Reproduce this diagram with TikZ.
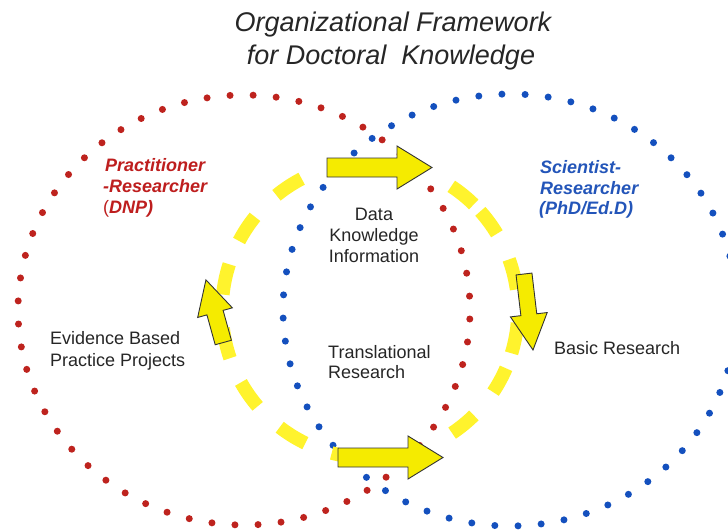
\documentclass[tikz,border=0pt]{standalone}
\usepackage{fontspec}
\setmainfont{Liberation Sans}
\definecolor{dotred}{RGB}{190,35,30}
\definecolor{dotblue}{RGB}{20,80,190}
\definecolor{txtred}{RGB}{190,30,30}
\definecolor{txtblue}{RGB}{35,85,185}
\definecolor{dashyel}{RGB}{255,243,45}
\definecolor{arryel}{RGB}{245,235,0}
\newcommand\blockarrowY[7]{%
  \begin{scope}[shift={(#1,#2)}, rotate=#3]
    \filldraw[yarrowsty] (0,-#6) -- (#4,-#6) -- (#4,-#7) -- ({#4+#5},0) -- (#4,#7) -- (#4,#6) -- (0,#6) -- cycle;
  \end{scope}}
\begin{document}
\begin{tikzpicture}[x=1pt,y=-1pt,
  reddots/.style={draw=dotred, line width=7pt, line cap=round, dash pattern=on 0pt off 23.1pt, dash phase=14.1pt},
  bluedots/.style={draw=dotblue, line width=7pt, line cap=round, dash pattern=on 0pt off 23.2pt, dash phase=8pt},
  ydash/.style={draw=dashyel, line width=13.5pt, line cap=butt},
  yarrowsty/.style={fill=arryel, draw=black!80, line width=0.9pt, line join=miter},
  titletxt/.style={font=\fontsize{27}{31}\selectfont\itshape, inner sep=0pt, text=black!85},
  redlbl/.style={font=\fontsize{18}{21}\selectfont\bfseries\itshape, text=txtred, inner sep=0pt, anchor=base west},
  bluelbl/.style={font=\fontsize{18}{21}\selectfont\bfseries\itshape, text=txtblue, inner sep=0pt, anchor=base west},
  bodytxt/.style={font=\fontsize{18}{21}\selectfont, text=black!85, inner sep=0pt}]
\useasboundingbox[fill=white] (0,0) rectangle (728,531);

% dotted ellipses
\draw[reddots] (244,310) ellipse [x radius=226, y radius=215];
\draw[bluedots] (510,310) ellipse [x radius=227, y radius=216];

% yellow dashed circle
\foreach \a/\b in {117.5/129.2, 141/152.2, 162/174, 187/199, 209.3/220.6, 232.4/244.1, 255/267, 303.7/314.6, 326.3/336.8, 343/355, 8/20, 31/41.8, 45.5/56.7}
  \draw[ydash] (370,310) ++(-\a:148) arc[start angle=-\a, end angle=-\b, radius=148];

% block arrows
\blockarrowY{327}{167.5}{0}{70}{35}{9.5}{21.5}
\blockarrowY{338}{457.5}{0}{70}{35}{9.5}{21.5}
\blockarrowY{524}{274}{-83.25}{41}{35.5}{8}{18.5}
\blockarrowY{223.3}{342.5}{105.5}{31}{34}{8.4}{18}

% title
\node[titletxt, anchor=base] (t1) at (393,31.5) {Organizational Framework};
\node[titletxt, anchor=base] (t2) at (391,64.5) {for Doctoral\ \ Knowledge};

% red label
\node[redlbl] (p1) at (105,171) {Practitioner};
\node[redlbl] (p2) at (103,192) {-Researcher};
\node[redlbl] (p3) at (103,213) {{\mdseries\upshape(}DNP)};

% blue label
\node[bluelbl] (s1) at (540,173) {Scientist-};
\node[bluelbl] (s2) at (540,194) {Researcher};
\node[bluelbl] (s3) at (539,214) {(PhD/Ed.D)};

% body texts
\node[bodytxt, anchor=base] (d1) at (374,220) {Data};
\node[bodytxt, anchor=base] (d2) at (374,241) {Knowledge};
\node[bodytxt, anchor=base] (d3) at (374,262) {Information};
\node[bodytxt, anchor=base west] (e1) at (50,344.5) {Evidence Based};
\node[bodytxt, anchor=base west] (e2) at (50,366) {Practice Projects};
\node[bodytxt, anchor=base west] (r1) at (328,358) {Translational};
\node[bodytxt, anchor=base west] (r2) at (328,378) {Research};
\node[bodytxt, anchor=base west] (b1) at (554,354) {Basic Research};
\end{tikzpicture}
\end{document}
